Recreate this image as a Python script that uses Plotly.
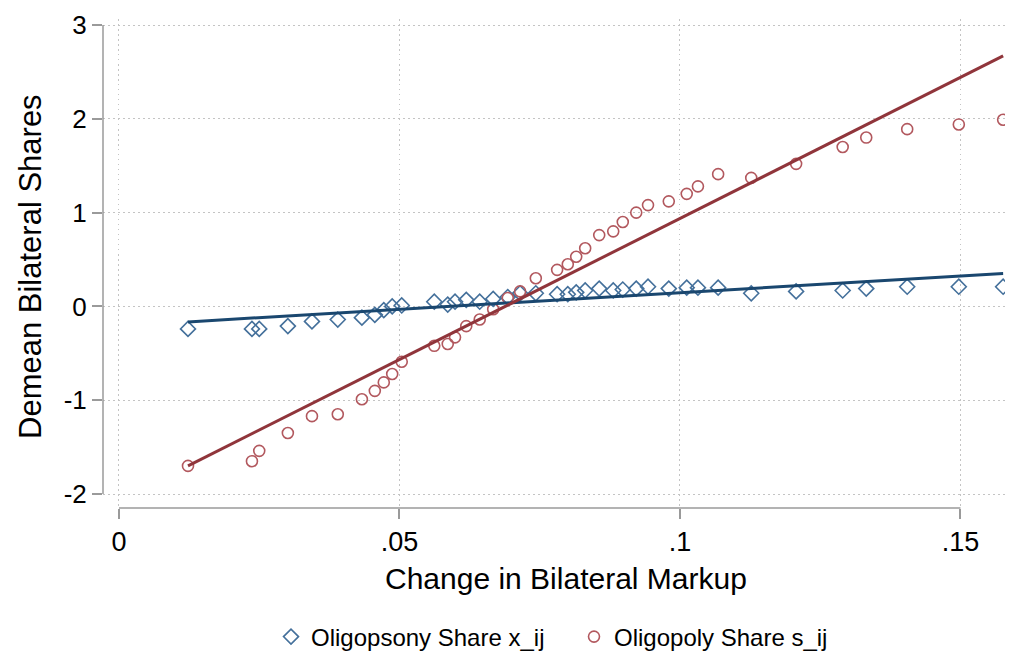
import plotly.graph_objects as go

# ---- data (binned scatter) ----
markup_change = [0.0123, 0.0237, 0.0250, 0.0301, 0.0344, 0.0390, 0.0433, 0.0456, 0.0472, 0.0487,
                 0.0504, 0.0562, 0.0586, 0.0599, 0.0619, 0.0643, 0.0667, 0.0693, 0.0715, 0.0743,
                 0.0781, 0.0800, 0.0815, 0.0831, 0.0856, 0.0881, 0.0898, 0.0922, 0.0943, 0.0980,
                 0.1012, 0.1032, 0.1068, 0.1127, 0.1207, 0.1290, 0.1332, 0.1405, 0.1497, 0.1576]

oligopsony_share = [-0.24, -0.24, -0.24, -0.21, -0.16, -0.14, -0.12, -0.09, -0.04, 0.00,
                    0.01, 0.05, 0.02, 0.05, 0.07, 0.05, 0.08, 0.10, 0.14, 0.14,
                    0.13, 0.13, 0.15, 0.17, 0.19, 0.17, 0.18, 0.19, 0.21, 0.19,
                    0.20, 0.20, 0.20, 0.14, 0.16, 0.17, 0.19, 0.21, 0.21, 0.21]

oligopoly_share = [-1.70, -1.65, -1.54, -1.35, -1.17, -1.15, -0.99, -0.90, -0.81, -0.72,
                   -0.59, -0.42, -0.40, -0.33, -0.21, -0.14, -0.03, 0.09, 0.16, 0.30,
                   0.39, 0.45, 0.53, 0.62, 0.76, 0.80, 0.90, 1.00, 1.08, 1.12,
                   1.20, 1.28, 1.41, 1.37, 1.52, 1.70, 1.80, 1.89, 1.94, 1.99]

# fitted lines (endpoints)
fit_x = [0.0123, 0.1576]
fit_oligopsony = [-0.165, 0.35]
fit_oligopoly = [-1.70, 2.67]

x_ticks = [0, 0.05, 0.1, 0.15]
x_tick_labels = ["0", ".05", ".1", ".15"]
y_ticks = [-2, -1, 0, 1, 2, 3]
y_tick_labels = ["-2", "-1", "0", "1", "2", "3"]

NAVY = "#1a476f"
MAROON = "#90353b"
FONT = "Liberation Sans, Arial, Helvetica, sans-serif"
AXIS_GRAY = "#9a9a9a"

fig = go.Figure()

fig.add_trace(go.Scatter(
    x=markup_change, y=oligopsony_share, mode="markers",
    name="Oligopsony Share x_ij",
    marker=dict(symbol="diamond-open", size=11.5, color="#44709b",
                line=dict(width=1.6, color="#44709b")),
))
fig.add_trace(go.Scatter(
    x=markup_change, y=oligopoly_share, mode="markers",
    name="Oligopoly Share s_ij",
    marker=dict(symbol="circle-open", size=11, color="#b2585e",
                line=dict(width=1.6, color="#b2585e")),
))
fig.add_trace(go.Scatter(
    x=fit_x, y=fit_oligopsony, mode="lines", showlegend=False,
    line=dict(color=NAVY, width=3), hoverinfo="skip",
))
fig.add_trace(go.Scatter(
    x=fit_x, y=fit_oligopoly, mode="lines", showlegend=False,
    line=dict(color=MAROON, width=3), hoverinfo="skip",
))

# page offset of the figure (browser body margin)
OFF = 8
W, H = 1013, 659
# plot area wanted on the page: x 103..1013, y 19..508
L, R, T, B = 103 - OFF, W - (1013 - OFF), 19 - OFF, H - (508 - OFF)
PW, PH = W - L - R, H - T - B


def px_x(page_x):
    return (page_x - OFF - L) / PW


def px_y(page_y):
    return (H - B - (page_y - OFF)) / PH


fig.update_layout(
    width=W, height=H,
    margin=dict(l=L, r=R, t=T, b=B, pad=0),
    paper_bgcolor="white", plot_bgcolor="white",
    font=dict(family=FONT, color="black"),
    showlegend=True,
    legend=dict(orientation="h", x=px_x(574), xanchor="center", y=px_y(637), yanchor="middle",
                font=dict(size=24, family=FONT, color="black"),
                bgcolor="rgba(0,0,0,0)", itemwidth=30, traceorder="normal",
                entrywidth=258, entrywidthmode="pixels"),
    xaxis=dict(
        range=[-0.00285, 0.15936], tickmode="array", tickvals=x_ticks, ticktext=x_tick_labels,
        ticks="outside", ticklen=10, tickwidth=1.5, tickcolor=AXIS_GRAY,
        tickfont=dict(size=27, family=FONT, color="black"),
        showgrid=True, gridcolor="#c4c4c4", gridwidth=1, griddash="1.5px,3.5px",
        zeroline=False, showline=False, automargin=False, ticklabeloverflow="allow",
    ),
    yaxis=dict(
        range=[-2.149, 3.064], tickmode="array", tickvals=y_ticks, ticktext=y_tick_labels,
        ticks="outside", ticklen=10, tickwidth=1.5, tickcolor=AXIS_GRAY,
        tickfont=dict(size=26, family=FONT, color="black"),
        showgrid=True, gridcolor="#c4c4c4", gridwidth=1, griddash="1.5px,3.5px",
        zeroline=False, showline=False, automargin=False, ticklabeloverflow="allow",
    ),
    shapes=[
        dict(type="line", xref="x", yref="paper", x0=0, x1=0.15, y0=0, y1=0,
             line=dict(color=AXIS_GRAY, width=1.5)),
        dict(type="line", xref="paper", yref="y", x0=0, x1=0, y0=-2, y1=3,
             line=dict(color=AXIS_GRAY, width=1.5)),
    ],
    annotations=[
        dict(text="Change in Bilateral Markup", xref="paper", yref="paper",
             x=px_x(566), y=px_y(578),
             xanchor="center", yanchor="middle", showarrow=False,
             font=dict(size=30, family=FONT, color="black")),
        dict(text="Demean Bilateral Shares", xref="paper", yref="paper",
             x=px_x(30), y=px_y(267),
             xanchor="center", yanchor="middle", textangle=-90, showarrow=False,
             font=dict(size=31, family=FONT, color="black")),
    ],
)

fig.write_html("out.html")
